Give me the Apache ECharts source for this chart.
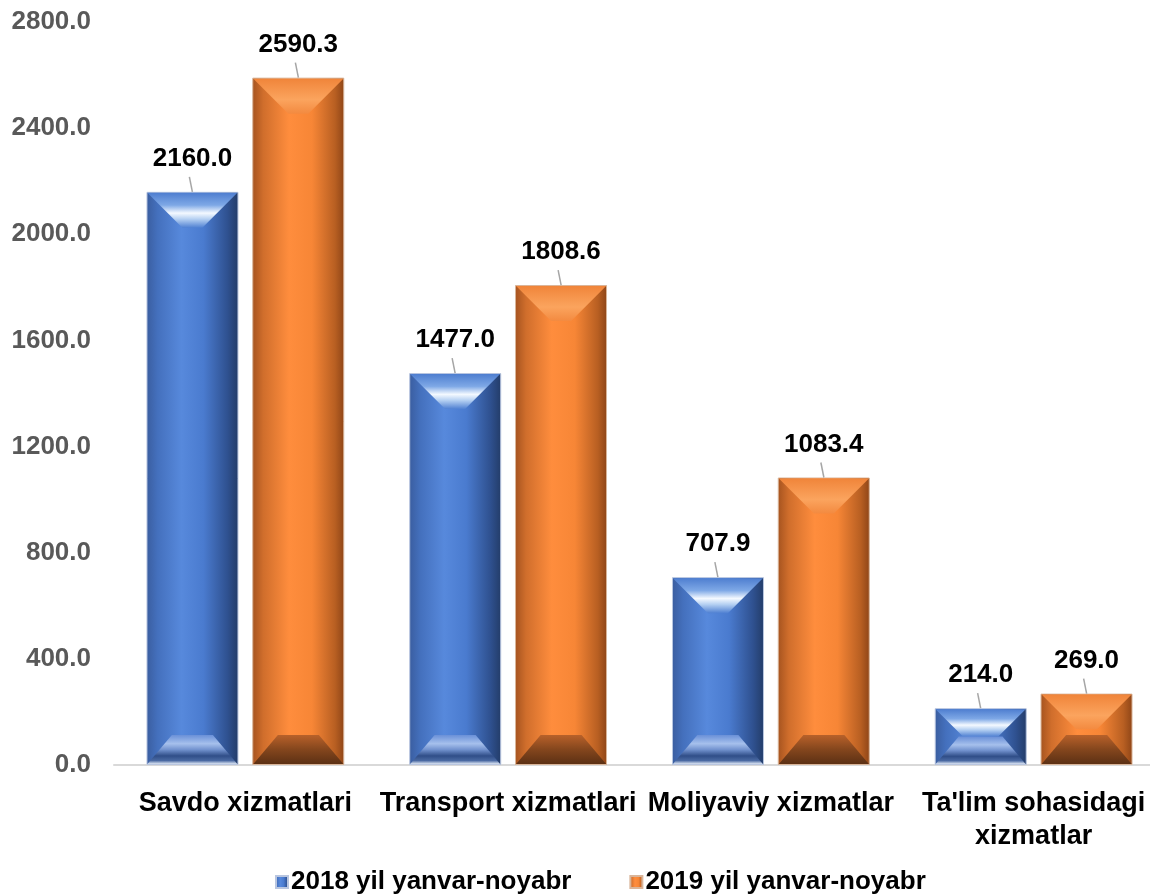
<!DOCTYPE html>
<html>
<head>
<meta charset="utf-8">
<script src="https://cdn.jsdelivr.net/npm/echarts@6/dist/echarts.min.js"></script>
<style>
  html, body { margin: 0; padding: 0; background: #fff; overflow: hidden; }
  #chart { width: 1165px; height: 894px; }
</style>
</head>
<body>
<div id="chart"></div>
<script>
// data
const categories = ['Savdo xizmatlari', 'Transport xizmatlari', 'Moliyaviy xizmatlar', "Ta'lim sohasidagi\nxizmatlar"];
const seriesNames = ['2018 yil yanvar-noyabr', '2019 yil yanvar-noyabr'];
const values2018 = [2160.0, 1477.0, 707.9, 214.0];
const values2019 = [2590.3, 1808.6, 1083.4, 269.0];
const yMin = 0;
const yMax = 2800;
const yStep = 400;

const myChart = echarts.init(document.getElementById('chart'));
const G = echarts.graphic.LinearGradient;

const BAR_W = 92;
const HALF_STEP = 53; // bar center offset from category center

// colour sets for body and bevels
const blue = {
  body: new G(0, 0, 1, 0, [
    { offset: 0, color: '#3a5d9f' },
    { offset: 0.12, color: '#4470bd' },
    { offset: 0.38, color: '#5789dc' },
    { offset: 0.62, color: '#4a7bcf' },
    { offset: 0.88, color: '#2f5190' },
    { offset: 1, color: '#233c68' }
  ]),
  top: new G(0, 0, 0, 1, [
    { offset: 0, color: '#4e7ed0' },
    { offset: 0.35, color: '#7ea8e6' },
    { offset: 0.58, color: '#f4f9ff' },
    { offset: 0.75, color: '#b5d0f2' },
    { offset: 1, color: '#4f80d2' }
  ]),
  bottom: new G(0, 0, 0, 1, [
    { offset: 0, color: '#6a90d8' },
    { offset: 0.3, color: '#a6c0ec' },
    { offset: 0.5, color: '#7393cf' },
    { offset: 0.72, color: '#304e88' },
    { offset: 0.88, color: '#4a69a2' },
    { offset: 1, color: '#dde6f4' }
  ]),
  border: '#b9c6e0'
};
const orange = {
  body: new G(0, 0, 1, 0, [
    { offset: 0, color: '#a5531f' },
    { offset: 0.12, color: '#d06e2c' },
    { offset: 0.4, color: '#ff8d3d' },
    { offset: 0.65, color: '#f78636' },
    { offset: 0.9, color: '#b85f22' },
    { offset: 1, color: '#8e4517' }
  ]),
  top: new G(0, 0, 0, 1, [
    { offset: 0, color: '#f0853a' },
    { offset: 0.6, color: '#fba45e' },
    { offset: 1, color: '#f38a40' }
  ]),
  bottom: new G(0, 0, 0, 1, [
    { offset: 0, color: '#b8612a' },
    { offset: 0.5, color: '#84461d' },
    { offset: 1, color: '#5c3014' }
  ]),
  border: '#d9b59a'
};

function bevelRender(side, pal) {
  return function (params, api) {
    const i = api.value(0);
    const v = api.value(1);
    const top = api.coord([i, v]);
    const base = api.coord([i, 0]);
    const cx = top[0] + side * HALF_STEP;
    const x0 = cx - BAR_W / 2, x1 = cx + BAR_W / 2;
    const yT = top[1], yB = base[1];
    const h = yB - yT;
    const dT = Math.min(36, h / 2);
    const dB = Math.min(30, h / 2);
    const inB = dB * 0.85;
    return {
      type: 'group',
      children: [
        {
          type: 'polygon',
          shape: { points: [[x0 + 1, yT + 1], [x1 - 1, yT + 1], [x1 - dT, yT + dT], [x0 + dT, yT + dT]] },
          style: { fill: pal.top }
        },
        {
          type: 'polygon',
          shape: { points: [[x0 + 1, yB - 1], [x1 - 1, yB - 1], [x1 - inB, yB - dB], [x0 + inB, yB - dB]] },
          style: { fill: pal.bottom }
        },
        {
          type: 'line',
          shape: { x1: cx, y1: yT, x2: cx - 3, y2: yT - 15 },
          style: { stroke: '#a6a6a6', lineWidth: 1.5 }
        }
      ]
    };
  };
}

const labelStyle = {
  show: true,
  position: 'top',
  distance: 20,
  color: '#000',
  fontFamily: 'Liberation Sans, Arial, sans-serif',
  fontWeight: 'bold',
  fontSize: 26,
  formatter: (p) => Number(p.value).toFixed(1)
};

const option = {
  animation: false,
  backgroundColor: '#fff',
  grid: {
    left: 114,
    right: 0,
    top: 22,
    bottom: 129
  },
  legend: {
    data: seriesNames,
    top: 864,
    left: 270,
    icon: 'rect',
    itemWidth: 12,
    itemHeight: 12,
    itemGap: 58,
    textStyle: {
      color: '#000',
      fontFamily: 'Liberation Sans, Arial, sans-serif',
      fontWeight: 'bold',
      fontSize: 26,
      padding: [0, 0, 0, -2]
    }
  },
  xAxis: {
    type: 'category',
    data: categories,
    axisLine: { show: true, lineStyle: { color: '#d9d9d9', width: 2 } },
    axisTick: { show: false },
    splitLine: { show: false },
    axisLabel: {
      interval: 0,
      margin: 22,
      color: '#000',
      fontFamily: 'Liberation Sans, Arial, sans-serif',
      fontWeight: 'bold',
      fontSize: 27,
      lineHeight: 33
    }
  },
  yAxis: {
    type: 'value',
    min: yMin,
    max: yMax,
    interval: yStep,
    axisLine: { show: false },
    axisTick: { show: false },
    splitLine: { show: false },
    axisLabel: {
      margin: 23,
      color: '#595959',
      fontFamily: 'Liberation Sans, Arial, sans-serif',
      fontWeight: 'bold',
      fontSize: 26,
      formatter: (v) => v.toFixed(1)
    }
  },
  series: [
    {
      name: seriesNames[0],
      type: 'bar',
      data: values2018,
      barWidth: BAR_W,
      barGap: '15%',
      itemStyle: { color: blue.body, borderColor: blue.border, borderWidth: 1 },
      label: labelStyle
    },
    {
      name: seriesNames[1],
      type: 'bar',
      data: values2019,
      barWidth: BAR_W,
      barGap: '15%',
      itemStyle: { color: orange.body, borderColor: orange.border, borderWidth: 1 },
      label: labelStyle
    },
    {
      name: 'bevel2018',
      type: 'custom',
      z: 3,
      silent: true,
      renderItem: bevelRender(-1, blue),
      data: values2018.map((v, i) => [i, v])
    },
    {
      name: 'bevel2019',
      type: 'custom',
      z: 3,
      silent: true,
      renderItem: bevelRender(1, orange),
      data: values2019.map((v, i) => [i, v])
    }
  ]
};

option && myChart.setOption(option);
</script>
</body>
</html>
